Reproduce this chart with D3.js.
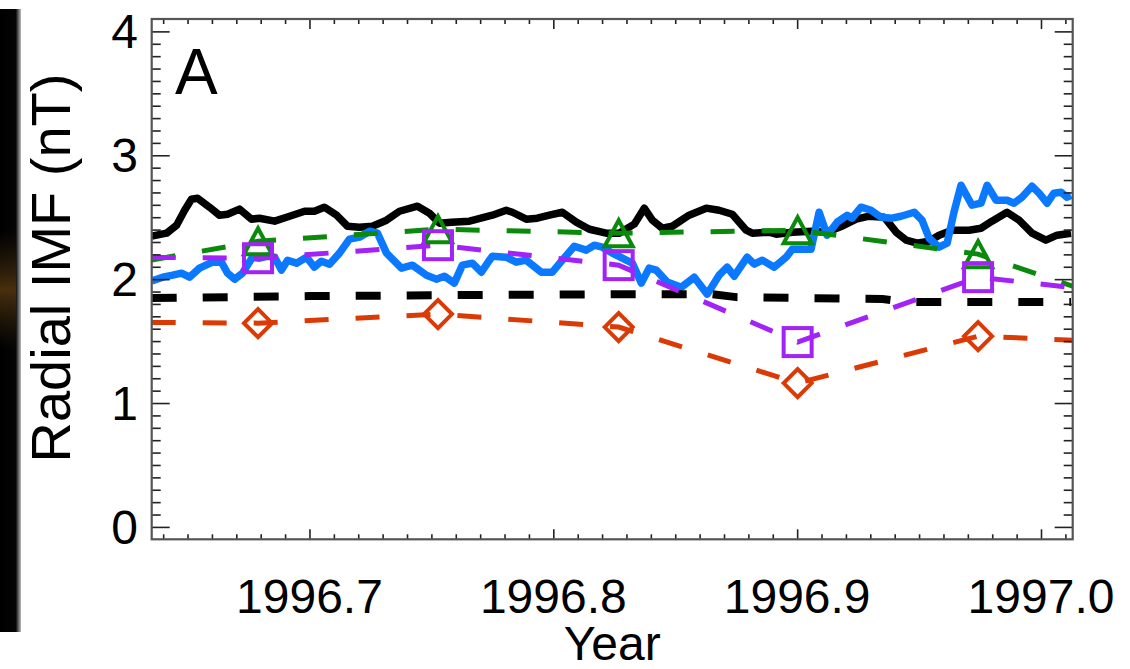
<!DOCTYPE html>
<html><head><meta charset="utf-8">
<script src="https://cdn.jsdelivr.net/npm/d3@7"></script>
<style>
html,body{margin:0;padding:0;background:#fff;}
svg text{font-family:"Liberation Sans",Arial,Helvetica,sans-serif;fill:#000;}
</style></head>
<body>
<svg id="chart" width="1130" height="669"></svg>
<script>
// ---- data ----
const blackYears = [1996.6352,1996.6414,1996.6455,1996.6488,1996.6516,1996.6541,1996.6590,1996.6631,1996.6664,1996.6713,1996.6762,1996.6795,1996.6857,1996.6906,1996.6980,1996.7020,1996.7061,1996.7111,1996.7156,1996.7205,1996.7258,1996.7316,1996.7369,1996.7443,1996.7492,1996.7533,1996.7582,1996.7656,1996.7750,1996.7807,1996.7832,1996.7889,1996.7934,1996.7984,1996.8037,1996.8094,1996.8148,1996.8217,1996.8270,1996.8332,1996.8373,1996.8406,1996.8447,1996.8488,1996.8557,1996.8627,1996.8680,1996.8734,1996.8791,1996.8816,1996.8885,1996.8914,1996.8980,1996.9061,1996.9119,1996.9184,1996.9242,1996.9295,1996.9357,1996.9406,1996.9447,1996.9492,1996.9541,1996.9582,1996.9635,1996.9705,1996.9754,1996.9799,1996.9861,1996.9910,1996.9963,1997.0020,1997.0066,1997.0123];
const blackVals = [2.347,2.371,2.435,2.556,2.645,2.653,2.581,2.516,2.524,2.565,2.484,2.492,2.468,2.500,2.548,2.548,2.581,2.516,2.427,2.419,2.427,2.476,2.548,2.589,2.532,2.452,2.460,2.468,2.516,2.556,2.540,2.484,2.492,2.516,2.540,2.460,2.403,2.371,2.371,2.444,2.573,2.476,2.411,2.427,2.516,2.573,2.556,2.524,2.395,2.371,2.379,2.363,2.379,2.387,2.379,2.427,2.484,2.508,2.500,2.379,2.315,2.290,2.306,2.355,2.395,2.395,2.411,2.468,2.540,2.476,2.371,2.315,2.355,2.371];
const blueYears = [1996.6352,1996.6398,1996.6439,1996.6475,1996.6508,1996.6549,1996.6602,1996.6639,1996.6664,1996.6693,1996.6725,1996.6766,1996.6795,1996.6828,1996.6857,1996.6885,1996.6910,1996.6947,1996.6988,1996.7020,1996.7049,1996.7082,1996.7123,1996.7164,1996.7205,1996.7246,1996.7279,1996.7316,1996.7377,1996.7422,1996.7480,1996.7520,1996.7553,1996.7594,1996.7627,1996.7668,1996.7705,1996.7738,1996.7750,1996.7807,1996.7848,1996.7889,1996.7951,1996.7996,1996.8037,1996.8086,1996.8135,1996.8168,1996.8201,1996.8242,1996.8283,1996.8324,1996.8361,1996.8393,1996.8422,1996.8467,1996.8525,1996.8578,1996.8631,1996.8680,1996.8713,1996.8742,1996.8795,1996.8824,1996.8857,1996.8906,1996.8955,1996.8980,1996.9029,1996.9057,1996.9090,1996.9123,1996.9164,1996.9205,1996.9225,1996.9262,1996.9303,1996.9344,1996.9389,1996.9426,1996.9480,1996.9512,1996.9541,1996.9582,1996.9615,1996.9643,1996.9672,1996.9717,1996.9754,1996.9779,1996.9816,1996.9861,1996.9889,1996.9922,1996.9963,1996.9992,1997.0025,1997.0053,1997.0082,1997.0107,1997.0123];
const blueVals = [1.984,2.016,2.032,2.048,2.016,2.089,2.137,2.137,2.048,2.000,2.048,2.177,2.169,2.185,2.177,2.073,2.153,2.129,2.177,2.097,2.145,2.121,2.210,2.323,2.339,2.387,2.371,2.210,2.089,2.113,2.032,2.000,2.024,1.968,2.113,2.129,2.056,2.153,2.185,2.177,2.137,2.153,2.056,2.056,2.153,2.266,2.234,2.274,2.258,2.210,2.169,2.129,1.968,2.089,2.073,1.976,1.935,2.016,1.879,2.032,2.097,2.024,2.177,2.121,2.153,2.097,2.177,2.242,2.242,2.242,2.540,2.355,2.460,2.516,2.492,2.581,2.556,2.500,2.492,2.508,2.540,2.476,2.331,2.258,2.290,2.540,2.758,2.597,2.613,2.758,2.637,2.637,2.613,2.661,2.750,2.694,2.613,2.694,2.702,2.661,2.677];
const modelYears = [1996.6352,1996.7000,1996.7600,1996.8300,1996.8650,1996.8750,1996.9350,1996.9450,1997.0123];
const modelVals = [1.847,1.863,1.871,1.879,1.879,1.855,1.839,1.815,1.815];
const rotYears = [1996.6051,1996.6789,1996.7527,1996.8268,1996.9002,1996.9742,1997.0480];
const greenVals = [2.050,2.306,2.403,2.371,2.395,2.202,1.710];
const purpleVals = [2.180,2.169,2.274,2.113,1.492,2.016,1.855];
const redVals = [1.655,1.645,1.718,1.613,1.161,1.540,1.478];
const xMajorTicks = [1996.7,1996.8,1996.9,1997.0];
const xTickLabels = ["1996.7","1996.8","1996.9","1997.0"];
const yMajorTicks = [0,1,2,3,4];
const yTickLabels = ["0","1","2","3","4"];
const xDomain = [1996.6353,1997.0130];
const yDomain = [-0.1,4.1];
const panelLabel = "A";
const xTitle = "Year";
const yTitle = "Radial IMF (nT)";

// ---- layout ----
const L = 151.7, R = 1072.7, T = 19, B = 539.3;
const svg = d3.select("#chart");
const x = d3.scaleLinear().domain(xDomain).range([L, R]);
const y = d3.scaleLinear().domain(yDomain).range([B, T]);

// dark strip at far left
const defs = svg.append("defs");
const g1 = defs.append("linearGradient").attr("id","strip").attr("x1","0").attr("x2","1");
g1.append("stop").attr("offset","0").attr("stop-color","#000");
g1.append("stop").attr("offset","0.75").attr("stop-color","#050505");
g1.append("stop").attr("offset","1").attr("stop-color","#bbb");
svg.append("rect").attr("x",0).attr("y",9).attr("width",21).attr("height",623).attr("fill","url(#strip)");
const g2 = defs.append("linearGradient").attr("id","warm").attr("x1","0").attr("x2","0").attr("y1","0").attr("y2","1");
g2.append("stop").attr("offset","0").attr("stop-color","#3a2a10").attr("stop-opacity","0");
g2.append("stop").attr("offset","0.5").attr("stop-color","#5a3a10").attr("stop-opacity","0.8");
g2.append("stop").attr("offset","1").attr("stop-color","#3a2a10").attr("stop-opacity","0");
svg.append("rect").attr("x",0).attr("y",230).attr("width",16).attr("height",120).attr("fill","url(#warm)");

defs.append("clipPath").attr("id","plotclip").append("rect")
  .attr("x",L).attr("y",T).attr("width",R-L).attr("height",B-T);

// clip series to x-domain so dash pattern starts at the frame edge
function clipSeries(xs, ys) {
  const pts = [];
  const [a, b] = xDomain;
  for (let i = 0; i < xs.length; i++) {
    const xv = xs[i], yv = ys[i];
    if (i > 0) {
      const xp = xs[i-1], yp = ys[i-1];
      if (xp < a && xv >= a) pts.push([a, yp + (yv-yp)*(a-xp)/(xv-xp)]);
    }
    if (xv >= a && xv <= b) pts.push([xv, yv]);
    if (i > 0) {
      const xp = xs[i-1], yp = ys[i-1];
      if (xp <= b && xv > b) pts.push([b, yp + (yv-yp)*(b-xp)/(xv-xp)]);
    }
  }
  return pts;
}
const line = d3.line().x(d => x(d[0])).y(d => y(d[1]));
const plot = svg.append("g").attr("clip-path","url(#plotclip)");

function solid(xs, ys, color, w) {
  plot.append("path").datum(clipSeries(xs, ys)).attr("d", line)
    .attr("fill","none").attr("stroke",color).attr("stroke-width",w)
    .attr("stroke-linejoin","round").attr("stroke-linecap","butt");
}
function dashed(xs, ys, color, w, dash) {
  plot.append("path").datum(clipSeries(xs, ys)).attr("d", line)
    .attr("fill","none").attr("stroke",color).attr("stroke-width",w)
    .attr("stroke-dasharray",dash).attr("stroke-linecap","butt");
}
solid(blackYears, blackVals, "#000", 7.5);
solid(blueYears, blueVals, "#0a78ff", 7.5);
dashed(modelYears, modelVals, "#000", 8, "25,26");

const GREEN = "#0a8a0a", PURPLE = "#a322f5", RED = "#dc3a05";
dashed(rotYears, greenVals, GREEN, 5, "24,27");
dashed(rotYears, purpleVals, PURPLE, 5, "24,27");
dashed(rotYears, redVals, RED, 5, "24,27");

const mk = rotYears.map((yr,i)=>i).filter(i => rotYears[i] >= xDomain[0] && rotYears[i] <= xDomain[1]);
// triangles
plot.selectAll(".tri").data(mk).join("path").attr("class","tri")
  .attr("d", i => { const cx = x(rotYears[i]), cy = y(greenVals[i]);
     return `M${cx-14},${cy+13}L${cx},${cy-13}L${cx+14},${cy+13}Z`; })
  .attr("fill","none").attr("stroke",GREEN).attr("stroke-width",4).attr("stroke-linejoin","miter");
// squares
plot.selectAll(".sq").data(mk).join("rect").attr("class","sq")
  .attr("x", i => x(rotYears[i]) - 14).attr("y", i => y(purpleVals[i]) - 14)
  .attr("width",28).attr("height",28)
  .attr("fill","none").attr("stroke",PURPLE).attr("stroke-width",4);
// diamonds
plot.selectAll(".dm").data(mk).join("path").attr("class","dm")
  .attr("d", i => { const cx = x(rotYears[i]), cy = y(redVals[i]);
     return `M${cx-14},${cy}L${cx},${cy-14}L${cx+14},${cy}L${cx},${cy+14}Z`; })
  .attr("fill","none").attr("stroke",RED).attr("stroke-width",4);

// ---- axes ----
const xMinor = d3.range(1996.64, 1997.0131, 0.01).filter(v => !xMajorTicks.some(m => Math.abs(m-v) < 1e-6));
const yMinor = d3.range(-0.0, 4.1, 0.1).map(v => +v.toFixed(1)).filter(v => !yMajorTicks.includes(v));

function tickStyle(g){ g.select(".domain").remove(); g.selectAll("line").attr("stroke","#222").attr("stroke-width",1.6); }
svg.append("g").attr("transform",`translate(0,${B})`)
  .call(d3.axisBottom(x).tickValues(xMajorTicks).tickSize(-10).tickFormat("")).call(tickStyle);
svg.append("g").attr("transform",`translate(0,${B})`)
  .call(d3.axisBottom(x).tickValues(xMinor).tickSize(-5).tickFormat("")).call(tickStyle);
svg.append("g").attr("transform",`translate(0,${T})`)
  .call(d3.axisTop(x).tickValues(xMajorTicks).tickSize(-10).tickFormat("")).call(tickStyle);
svg.append("g").attr("transform",`translate(0,${T})`)
  .call(d3.axisTop(x).tickValues(xMinor).tickSize(-5).tickFormat("")).call(tickStyle);
svg.append("g").attr("transform",`translate(${L},0)`)
  .call(d3.axisLeft(y).tickValues(yMajorTicks).tickSize(-18).tickFormat("")).call(tickStyle);
svg.append("g").attr("transform",`translate(${L},0)`)
  .call(d3.axisLeft(y).tickValues(yMinor).tickSize(-9).tickFormat("")).call(tickStyle);
svg.append("g").attr("transform",`translate(${R},0)`)
  .call(d3.axisRight(y).tickValues(yMajorTicks).tickSize(-18).tickFormat("")).call(tickStyle);
svg.append("g").attr("transform",`translate(${R},0)`)
  .call(d3.axisRight(y).tickValues(yMinor).tickSize(-9).tickFormat("")).call(tickStyle);

svg.append("rect").attr("x",L).attr("y",T).attr("width",R-L).attr("height",B-T)
  .attr("fill","none").attr("stroke","#555").attr("stroke-width",2.2);

// tick labels
svg.selectAll(".xl").data(xMajorTicks).join("text").attr("class","xl")
  .attr("x", d => x(d)).attr("y", 613).attr("text-anchor","middle")
  .attr("font-size",48).text((d,i) => xTickLabels[i]);
svg.selectAll(".yl").data(yMajorTicks).join("text").attr("class","yl")
  .attr("x", 138).attr("y", d => y(d) + 17).attr("text-anchor","end")
  .attr("font-size",48).text((d,i) => yTickLabels[i]);

svg.append("text").attr("x",(L+R)/2).attr("y",660).attr("text-anchor","middle")
  .attr("font-size",48).text(xTitle);
svg.append("text").attr("transform",`translate(70,268) rotate(-90)`)
  .attr("text-anchor","middle").attr("font-size",56).text(yTitle);
svg.append("text").attr("x",175).attr("y",94).attr("font-size",64).text(panelLabel);
</script>
</body></html>
